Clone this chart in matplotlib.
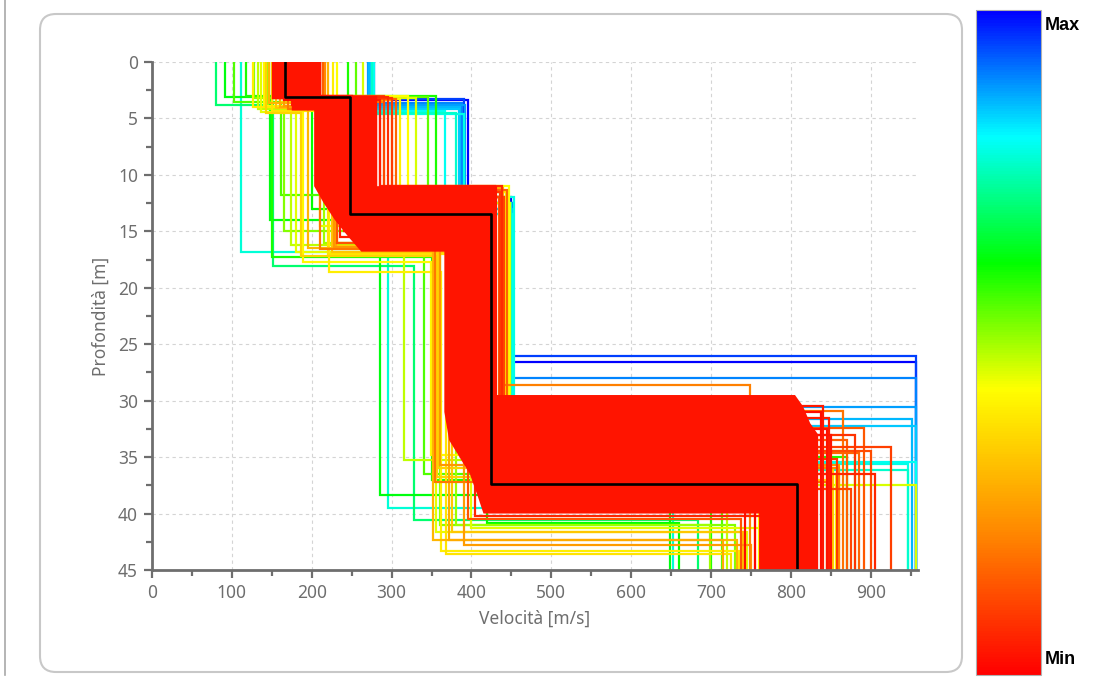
import numpy as np
import matplotlib

matplotlib.use("Agg")
import matplotlib.pyplot as plt
from matplotlib.colors import LinearSegmentedColormap, Normalize
from matplotlib.cm import ScalarMappable
from matplotlib.patches import FancyBboxPatch
from matplotlib.lines import Line2D

plt.rcParams["font.family"] = ["Noto Sans", "DejaVu Sans"]

# Tested profiles: normalised misfit (0 = Min, 1 = Max), layer velocities [m/s]
# and interface depths [m].
misfit = [1.00, 0.95, 0.90, 0.88, 0.86, 0.85, 0.80, 0.79, 0.77,
          0.78, 0.70, 0.63, 0.60, 0.56, 0.52, 0.48, 0.45, 0.42, 0.40, 0.35, 0.30,
          0.60, 0.55, 0.46, 0.43, 0.40, 0.30, 0.22, 0.15,
          0.20, 0.18, 0.14, 0.10, 0.08, 0.06, 0.05, 0.04, 0.12,
          0.28, 0.38, 0.33, 0.50, 0.25, 0.62, 0.45,
          0.02, 0.03, 0.02, 0.01, 0.03,
          0.07, 0.09, 0.11, 0.16, 0.04, 0.06, 0.13, 0.24, 0.35, 0.19]
v1 = [278, 276, 273, 270, 272, 274, 278, 276, 275,
      111, 80, 92, 118, 103, 128, 133, 137, 140, 126, 143, 146,
      245, 255, 264, 232, 226, 220, 216, 214,
      190, 185, 200, 195, 205, 180, 175, 170, 185,
      160, 150, 155, 145, 165, 150, 160,
      160, 165, 170, 175, 180,
      200, 205, 195, 190, 185, 180, 200, 205, 210, 170]
v2 = [395, 390, 388, 392, 386, 384, 367, 390, 380,
      112, 151, 148, 150, 161, 165, 174, 180, 189, 221, 186, 195,
      355, 345, 330, 320, 310, 300, 290, 285,
      240, 260, 255, 250, 245, 250, 235, 250, 240,
      230, 220, 225, 215, 228, 200, 210,
      230, 240, 235, 245, 250,
      295, 300, 290, 305, 286, 240, 232, 228, 232, 210]
v3 = [450, 451, 451, 452, 450, 452, 452, 453, 450,
      295, 328, 285, 350, 340, 360, 315, 355, 349, 362, 357, 352,
      445, 440, 448, 447, 443, 440, 436, 434,
      440, 430, 425, 420, 415, 410, 405, 420, 400,
      372, 368, 375, 380, 390, 420, 400,
      400, 410, 415, 420, 425,
      438, 436, 441, 445, 430, 405, 395, 360, 358, 354]
v4 = [957, 957, 957, 957, 951, 957, 957, 946, 946,
      652, 684, 649, 700, 713, 730, 720, 745, 760, 735, 755, 733,
      870, 880, 957, 856, 850, 845, 860, 870,
      749, 865, 892, 925, 880, 905, 848, 840, 900,
      715, 725, 740, 698, 750, 660, 770,
      838, 850, 742, 755, 845,
      828, 858, 875, 885, 790, 770, 738, 860, 853, 845]
z1 = [3.4, 3.3, 3.6, 3.8, 4.0, 4.2, 4.3, 4.6, 4.5,
      4.8, 3.8, 3.1, 3.0, 3.5, 3.2, 4.2, 4.4, 3.9, 4.0, 4.5, 3.6,
      3.0, 3.1, 3.2, 3.0, 3.3, 3.4, 3.5, 3.2,
      3.5, 3.4, 3.2, 3.1, 3.3, 3.6, 3.8, 3.0, 3.7,
      4.0, 4.3, 4.1, 4.0, 3.9, 4.0, 3.5,
      3.2, 3.4, 3.3, 3.1, 3.0,
      3.1, 3.2, 3.0, 3.3, 3.4, 3.5, 3.6, 3.8, 3.9, 4.2]
z2 = [12.0, 12.5, 12.5, 13.0, 13.5, 13.0, 13.5, 12.0, 12.5,
      16.8, 18.1, 14.0, 17.3, 11.8, 15.0, 16.2, 16.8, 17.7, 18.6, 17.2, 16.5,
      11.5, 12.0, 12.5, 11.0, 11.5, 11.2, 12.0, 12.0,
      12.0, 13.0, 13.5, 14.0, 14.5, 15.0, 15.5, 14.0, 15.0,
      16.5, 17.0, 16.8, 16.0, 16.0, 13.0, 14.5,
      13.0, 14.0, 14.5, 13.5, 12.5,
      11.0, 11.5, 12.0, 11.3, 11.0, 15.0, 16.0, 16.4, 16.3, 16.6]
z3 = [26.6, 26.0, 28.0, 30.6, 31.6, 32.2, 35.4, 35.6, 36.1,
      39.5, 40.6, 38.4, 37.0, 36.5, 41.0, 35.3, 41.6, 34.8, 43.3, 36.8, 42.3,
      35.0, 34.5, 37.5, 36.5, 37.0, 35.8, 36.0, 33.5,
      28.6, 30.9, 32.4, 34.1, 33.0, 36.5, 31.5, 30.5, 34.5,
      42.3, 43.6, 41.6, 41.0, 42.8, 40.8, 41.3,
      31.0, 33.0, 39.0, 38.5, 32.5,
      36.8, 35.2, 37.8, 34.6, 39.5, 40.2, 40.5, 35.7, 36.0, 37.2]

# Outline of the dense band of best-fitting (Min misfit) profiles
band_v = [150, 212, 212, 282, 282, 432, 432, 805, 815, 824, 834, 834,
          760, 760, 415, 408, 398, 385, 372, 366, 366,
          262, 246, 229, 215, 203, 203, 175, 175, 150]
band_z = [0, 0, 3.0, 3.0, 11.0, 11.0, 29.5, 29.5, 30.5, 32.0, 33.0, 45,
          45, 40.0, 40.0, 38.5, 36.5, 35.0, 33.5, 31.0, 16.8,
          16.8, 15.5, 14.0, 12.5, 11.0, 4.3, 4.3, 3.3, 3.3]

# Best profile
best_v = [167, 248, 424, 808]
best_z = [3.1, 13.5, 37.4]

z_max = 45
v_max = 959

cmap = LinearSegmentedColormap.from_list(
    "misfit",
    [(0.0, "#ff0000"), (0.2, "#ff8000"), (0.43, "#ffff00"),
     (0.62, "#00ff00"), (0.81, "#00ffff"), (1.0, "#0000ff")],
)
norm = Normalize(0, 1)


def profile_path(vs, zs):
    xs, ys = [], []
    tops = [0] + list(zs)
    bots = list(zs) + [z_max]
    for v, top, bot in zip(vs, tops, bots):
        xs += [v, v]
        ys += [top, bot]
    return xs, ys


fig = plt.figure(figsize=(11.13, 6.82), dpi=100)

frame = FancyBboxPatch(
    (0.40, 0.10), 9.22, 6.58, boxstyle="round,pad=0,rounding_size=0.16",
    transform=fig.dpi_scale_trans, facecolor="none", edgecolor="#c8c8c8",
    linewidth=1.5, zorder=-1,
)
fig.add_artist(frame)
fig.add_artist(Line2D([5 / 1113, 5 / 1113], [0.01, 1.0], color="#a8a8a8",
                      linewidth=1.2, transform=fig.transFigure))

ax = fig.add_axes([152 / 1113, 112 / 682, 766 / 1113, 508 / 682])
ax.set_facecolor("none")

order = np.argsort(misfit, kind="stable")[::-1]
for i in order:
    xs, ys = profile_path([v1[i], v2[i], v3[i], v4[i]], [z1[i], z2[i], z3[i]])
    ax.plot(xs, ys, color=cmap(norm(misfit[i])), linewidth=1.6,
            solid_joinstyle="miter", zorder=2)

ax.fill(band_v, band_z, color="#ff1400", linewidth=0, zorder=3)

xs, ys = profile_path(best_v, best_z)
ax.plot(xs, ys, color="black", linewidth=1.9, zorder=4)

ax.set_xlim(0, v_max)
ax.set_ylim(z_max, 0)
ax.set_xticks(np.arange(0, 901, 100))
ax.set_xticks(np.arange(50, 951, 100), minor=True)
ax.set_yticks(np.arange(0, 46, 5))
ax.set_yticks(np.arange(2.5, 45, 5), minor=True)
ax.grid(True, which="major", color="#d4d4d4", linestyle=(0, (3, 3)),
        linewidth=0.8, zorder=1)
ax.set_axisbelow(True)

for side in ("top", "right"):
    ax.spines[side].set_visible(False)
for side in ("left", "bottom"):
    ax.spines[side].set_color("#6e6e6e")
    ax.spines[side].set_linewidth(2)
    ax.spines[side].set_zorder(5)

ax.tick_params(which="major", direction="out", length=6, width=1.6,
               color="#6e6e6e", labelcolor="#6e6e6e", labelsize=12.5, pad=4)
ax.tick_params(which="minor", direction="out", length=4, width=1.6,
               color="#6e6e6e")

ax.set_xlabel("Velocità [m/s]", color="#6e6e6e", fontsize=12.5, labelpad=6)
ax.set_ylabel("Profondità [m]", color="#6e6e6e", fontsize=12.5, labelpad=6)

cax = fig.add_axes([976 / 1113, 7 / 682, 65 / 1113, 665 / 682])
cb = fig.colorbar(ScalarMappable(norm=norm, cmap=cmap), cax=cax)
cb.set_ticks([])
cb.outline.set_edgecolor("#b0b0b0")
cb.outline.set_linewidth(0.8)

fig.text(1045 / 1113, 1 - 25 / 682, "Max", fontsize=13, fontweight="bold",
         family="Liberation Sans", va="center", ha="left")
fig.text(1045 / 1113, 1 - 660 / 682, "Min", fontsize=13, fontweight="bold",
         family="Liberation Sans", va="center", ha="left")

fig.savefig("out.png", dpi=100)
plt.close(fig)
